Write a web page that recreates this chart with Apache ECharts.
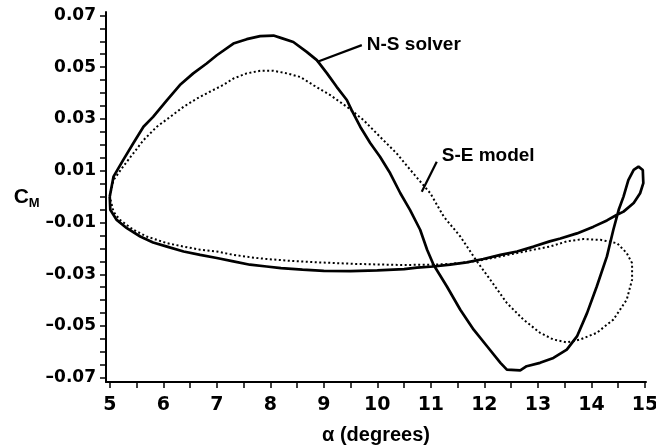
<!DOCTYPE html>
<html>
<head>
<meta charset="utf-8">
<script src="https://cdn.jsdelivr.net/npm/echarts@6/dist/echarts.min.js"></script>
<style>
  html, body { margin: 0; padding: 0; background: #fff; }
  #chart { width: 656px; height: 448px; }
</style>
</head>
<body>
<div id="chart"></div>
<script>
// N-S solver loop (alpha in degrees, C_M)
const nsAlpha = [5.0, 5.07, 5.25, 5.44, 5.63, 5.81, 6.07, 6.31, 6.56, 6.81, 7.0, 7.31, 7.56, 7.81, 8.06, 8.21, 8.43, 8.68, 8.87, 9.06, 9.24, 9.43, 9.52, 9.68, 9.87, 10.05, 10.24, 10.43, 10.61, 10.8, 10.93, 11.05, 11.3, 11.55, 11.8, 12.05, 12.3, 12.42, 12.67, 12.79, 13.04, 13.29, 13.54, 13.73, 13.92, 14.1, 14.29, 14.41, 14.51, 14.6, 14.69, 14.79, 14.88, 14.96, 14.97, 14.91, 14.79, 14.6, 14.47, 14.29, 14.04, 13.73, 13.42, 13.22, 12.92, 12.61, 12.3, 11.98, 11.67, 11.36, 11.05, 10.74, 10.5, 10.0, 9.5, 9.0, 8.6, 8.2, 7.93, 7.62, 7.31, 7.0, 6.69, 6.38, 6.07, 5.81, 5.57, 5.32, 5.13, 5.01, 5.0]
const nsCm = [0.0, 0.0077, 0.0141, 0.0206, 0.027, 0.0308, 0.0373, 0.0431, 0.0476, 0.0514, 0.0546, 0.0591, 0.0608, 0.062, 0.0622, 0.0612, 0.0597, 0.0559, 0.0527, 0.0476, 0.0424, 0.0373, 0.0334, 0.027, 0.0206, 0.0154, 0.009, 0.0013, -0.0051, -0.0128, -0.0205, -0.0263, -0.0347, -0.0437, -0.0514, -0.0578, -0.0642, -0.0668, -0.0671, -0.0655, -0.0642, -0.0623, -0.0591, -0.054, -0.0449, -0.0347, -0.0231, -0.0128, -0.0051, 0.0, 0.0064, 0.0103, 0.0116, 0.0103, 0.0052, 0.0013, -0.0025, -0.0058, -0.0071, -0.0092, -0.0116, -0.0142, -0.0162, -0.0173, -0.0193, -0.0212, -0.0225, -0.0241, -0.0254, -0.0263, -0.027, -0.0274, -0.028, -0.0285, -0.0288, -0.0287, -0.0282, -0.0276, -0.027, -0.0263, -0.025, -0.0237, -0.0225, -0.0212, -0.0193, -0.0177, -0.0154, -0.0122, -0.009, -0.0051, 0.0]

// S-E model loop
const seAlpha = [5.0, 5.07, 5.25, 5.44, 5.63, 5.88, 6.13, 6.38, 6.63, 6.87, 7.12, 7.31, 7.56, 7.81, 8.06, 8.31, 8.56, 8.81, 9.12, 9.43, 9.74, 10.05, 10.36, 10.67, 10.99, 11.24, 11.55, 11.86, 12.11, 12.42, 12.73, 13.04, 13.29, 13.54, 13.79, 14.1, 14.41, 14.66, 14.76, 14.76, 14.66, 14.48, 14.17, 13.85, 13.54, 13.22, 12.92, 12.61, 12.3, 11.98, 11.67, 11.36, 11.05, 10.43, 9.6, 8.9, 8.37, 7.93, 7.62, 7.31, 7.0, 6.69, 6.38, 6.07, 5.69, 5.44, 5.19, 5.07, 5.0]
const seCm = [0.0, 0.0064, 0.0116, 0.0167, 0.0218, 0.027, 0.0308, 0.0347, 0.0379, 0.0405, 0.0431, 0.0456, 0.0476, 0.0486, 0.0486, 0.0476, 0.0462, 0.043, 0.0392, 0.0347, 0.0296, 0.0231, 0.0167, 0.009, 0.0013, -0.0077, -0.0154, -0.025, -0.0321, -0.0411, -0.0475, -0.0526, -0.0552, -0.0563, -0.0552, -0.0526, -0.0475, -0.0398, -0.0321, -0.0257, -0.0218, -0.018, -0.0167, -0.0164, -0.0173, -0.0193, -0.0205, -0.0218, -0.0231, -0.0244, -0.0254, -0.026, -0.0263, -0.0264, -0.026, -0.0254, -0.0248, -0.0241, -0.0234, -0.0225, -0.0212, -0.0205, -0.0193, -0.018, -0.0154, -0.0128, -0.009, -0.0058, 0.0]

// tick labels
const xTicks = [5, 6, 7, 8, 9, 10, 11, 12, 13, 14, 15]
const yTicks = [-0.07, -0.05, -0.03, -0.01, 0.01, 0.03, 0.05, 0.07]

// leader lines for the curve labels: [from, to]
const nsLeader = [[8.87, 0.052], [9.71, 0.0585]]
const seLeader = [[10.83, 0.0019], [11.11, 0.0135]]

// minor ticks every half degree / every 0.005
const xMinor = []
for (let i = 0; i < xTicks.length - 1; i++) xMinor.push(xTicks[i], (xTicks[i] + xTicks[i + 1]) / 2)
xMinor.push(xTicks[xTicks.length - 1])
const yMinor = []
for (let i = 0; i < yTicks.length - 1; i++) {
  for (let k = 0; k < 4; k++) yMinor.push(+(yTicks[i] + k * 0.005).toFixed(4))
}
yMinor.push(yTicks[yTicks.length - 1])

const pairs = (xs, ys) => xs.map((x, i) => [x, ys[i]])

const chart = echarts.init(document.getElementById("chart"), null, { renderer: "canvas" })

const option = {
  animation: false,
  backgroundColor: "#fff",
  grid: { left: 106, right: 10, top: 12, bottom: 66, outerBoundsMode: "none" },
  xAxis: {
    type: "value",
    min: 4.93,
    max: 15.02,
    name: "α (degrees)",
    nameLocation: "middle",
    nameGap: 43,
    nameTextStyle: { color: "#000", fontSize: 20, fontWeight: "bold", fontFamily: "Liberation Sans" },
    axisLine: { show: true, onZero: false, lineStyle: { color: "#000", width: 2 } },
    axisTick: { show: true, customValues: xMinor, length: 6, lineStyle: { color: "#000", width: 1.5 } },
    axisLabel: {
      customValues: xTicks,
      margin: 14,
      color: "#000",
      fontSize: 19,
      fontWeight: "bold",
      fontFamily: "DejaVu Sans",
    },
    splitLine: { show: false },
  },
  yAxis: {
    type: "value",
    min: -0.0716,
    max: 0.0713,
    name: "{c|C}{m|M}",
    nameLocation: "middle",
    nameRotate: 0,
    nameGap: 60,
    nameTextStyle: {
      rich: {
        c: { fontSize: 21, fontWeight: "bold", color: "#000", fontFamily: "Liberation Sans" },
        m: { fontSize: 13, fontWeight: "bold", color: "#000", fontFamily: "Liberation Sans", padding: [12, 0, 0, 0] },
      },
    },
    axisLine: { show: true, onZero: false, lineStyle: { color: "#000", width: 2 } },
    axisTick: { show: true, customValues: yMinor, length: 6, lineStyle: { color: "#000", width: 1.5 } },
    axisLabel: {
      customValues: yTicks,
      margin: 10,
      color: "#000",
      fontSize: 17,
      fontWeight: "bold",
      fontFamily: "DejaVu Sans",
      formatter: (v) => (v < 0 ? "\u2013" + Math.abs(v).toFixed(2) : v.toFixed(2)),
    },
    splitLine: { show: false },
  },
  series: [
    {
      name: "N-S solver",
      type: "line",
      data: pairs(nsAlpha, nsCm),
      showSymbol: false,
      smooth: false,
      lineStyle: { color: "#000", width: 2.7 },
    },
    {
      name: "S-E model",
      type: "line",
      data: pairs(seAlpha, seCm),
      showSymbol: false,
      smooth: false,
      lineStyle: { color: "#000", width: 2, type: [2, 2.5] },
    },
    {
      // curve labels with their leader lines
      type: "scatter",
      symbolSize: 0,
      silent: true,
      itemStyle: { opacity: 1 },
      data: [
        { value: nsLeader[1], label: { formatter: "N-S solver", offset: [0, 0] } },
        { value: seLeader[1], label: { formatter: "S-E model", offset: [0, -6] } },
      ],
      label: {
        show: true,
        position: "right",
        distance: 5,
        color: "#000",
        opacity: 1,
        fontSize: 19,
        fontWeight: "bold",
        fontFamily: "Liberation Sans",
      },
      markLine: {
        silent: true,
        symbol: ["none", "none"],
        label: { show: false },
        lineStyle: { color: "#000", width: 2.2, type: "solid", opacity: 1 },
        data: [
          [{ coord: nsLeader[0] }, { coord: nsLeader[1] }],
          [{ coord: seLeader[0] }, { coord: seLeader[1] }],
        ],
      },
    },
  ],
}

chart.setOption(option)
window.addEventListener("resize", () => {
  chart.resize()
})
</script>
</body>
</html>
